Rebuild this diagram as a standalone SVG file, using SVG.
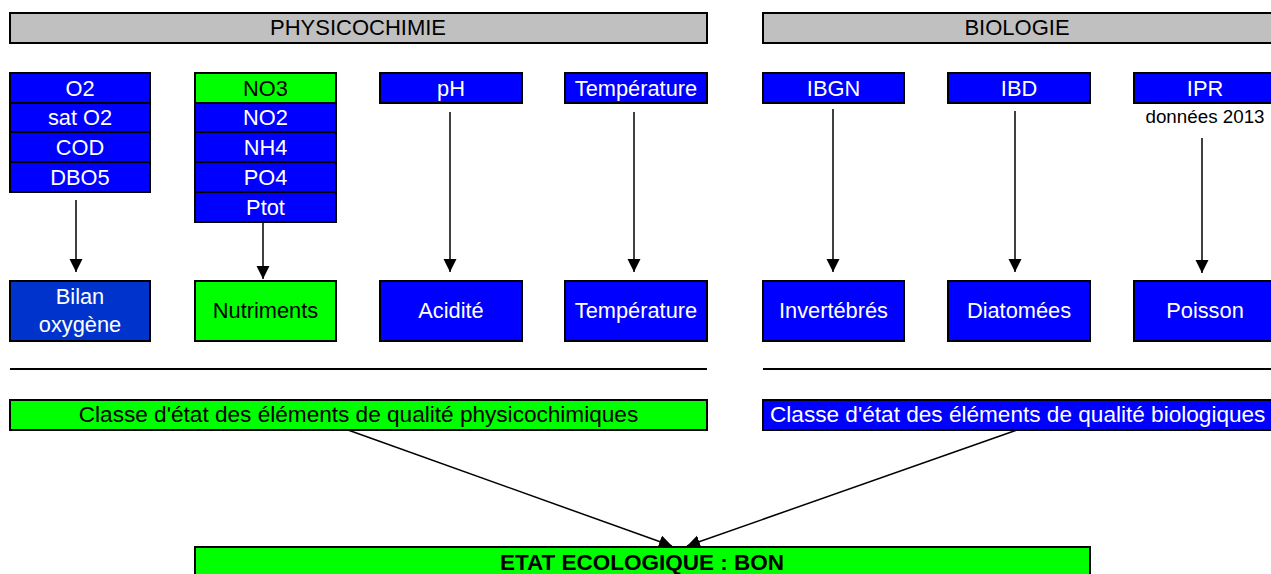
<svg xmlns="http://www.w3.org/2000/svg" width="1271" height="574" viewBox="0 0 1271 574">
<style>
text{font-family:"Liberation Sans",Arial,sans-serif;font-size:21.8px;text-anchor:middle}
.w{fill:#fff}
.k{fill:#000}
.blue{fill:#0000FF;stroke:#000;stroke-width:2}
.green{fill:#00FF00;stroke:#000;stroke-width:2}
.dblue{fill:#0033CC;stroke:#000;stroke-width:2}
.gray{fill:#C0C0C0;stroke:#000;stroke-width:2}
.hdr{font-size:22px}
.cls{font-size:22.6px}
.conn line{stroke:#000;stroke-width:1.5}
</style>
<defs>
<marker id="ah" markerUnits="userSpaceOnUse" markerWidth="14" markerHeight="14" refX="13" refY="6.5" orient="auto">
<path d="M0,0 L13,6.5 L0,13 z" fill="#000"/>
</marker>
</defs>
<rect width="1271" height="574" fill="#fff"/>
<g id="hdr-physico"><rect class="gray" x="10" y="13" width="697" height="30"/><text class="k hdr" x="358" y="35">PHYSICOCHIMIE</text></g>
<g id="hdr-bio"><rect class="gray" x="763" y="13" width="515" height="30"/><text class="k hdr" x="1017" y="35">BIOLOGIE</text></g>
<g id="oxy-params">
<rect class="blue" x="10" y="73" width="140" height="30"/><text class="w" x="80" y="96">O2</text>
<rect class="blue" x="10" y="103" width="140" height="29"/><text class="w" x="80" y="125">sat O2</text>
<rect class="blue" x="10" y="132" width="140" height="30"/><text class="w" x="80" y="155">COD</text>
<rect class="blue" x="10" y="162" width="140" height="30"/><text class="w" x="80" y="185">DBO5</text>
</g>
<g id="nutri-params">
<rect class="green" x="195" y="73" width="141" height="30"/><text class="k" x="265.5" y="96">NO3</text>
<rect class="blue" x="195" y="103" width="141" height="29"/><text class="w" x="265.5" y="125">NO2</text>
<rect class="blue" x="195" y="132" width="141" height="30"/><text class="w" x="265.5" y="155">NH4</text>
<rect class="blue" x="195" y="162" width="141" height="30"/><text class="w" x="265.5" y="185">PO4</text>
<rect class="blue" x="195" y="192" width="141" height="30"/><text class="w" x="265.5" y="215">Ptot</text>
</g>
<g id="ph"><rect class="blue" x="380" y="73" width="142" height="30"/><text class="w" x="451" y="96">pH</text></g>
<g id="temp-param"><rect class="blue" x="565" y="73" width="142" height="30"/><text class="w" x="636" y="96">Température</text></g>
<g id="ibgn"><rect class="blue" x="763" y="73" width="141" height="30"/><text class="w" x="833.5" y="96">IBGN</text></g>
<g id="ibd"><rect class="blue" x="948" y="73" width="142" height="30"/><text class="w" x="1019" y="96">IBD</text></g>
<g id="ipr"><rect class="blue" x="1134" y="73" width="145" height="30"/><text class="w" x="1205" y="96">IPR</text>
<text class="k" x="1205" y="123" style="font-size:18.8px">données 2013</text></g>
<g id="bilan"><rect class="dblue" x="10" y="281" width="140" height="60"/><text class="w" x="80" y="304">Bilan</text><text class="w" x="80" y="332">oxygène</text></g>
<g id="nutriments"><rect class="green" x="195" y="281" width="141" height="60"/><text class="k" x="265.5" y="318">Nutriments</text></g>
<g id="acidite"><rect class="blue" x="380" y="281" width="142" height="60"/><text class="w" x="451" y="318">Acidité</text></g>
<g id="temperature"><rect class="blue" x="565" y="281" width="142" height="60"/><text class="w" x="636" y="318">Température</text></g>
<g id="invertebres"><rect class="blue" x="763" y="281" width="141" height="60"/><text class="w" x="833.5" y="318">Invertébrés</text></g>
<g id="diatomees"><rect class="blue" x="948" y="281" width="142" height="60"/><text class="w" x="1019" y="318">Diatomées</text></g>
<g id="poisson"><rect class="blue" x="1134" y="281" width="145" height="60"/><text class="w" x="1205" y="318">Poisson</text></g>
<g id="separators"><line x1="10" y1="369" x2="707" y2="369" stroke="#000" stroke-width="2"/><line x1="763" y1="369" x2="1271" y2="369" stroke="#000" stroke-width="2"/></g>
<g id="classe-physico"><rect class="green" x="10" y="400" width="697" height="30"/><text class="k cls" x="358.5" y="422">Classe d'état des éléments de qualité physicochimiques</text></g>
<g id="classe-bio"><rect class="blue" x="763" y="400" width="515" height="30"/><text class="w cls" x="770" y="422" style="text-anchor:start">Classe d'état des éléments de qualité biologiques</text></g>
<g id="etat"><rect class="green" x="195" y="547" width="895" height="40"/><text class="k" x="642" y="570" style="font-weight:bold;font-size:22.5px">ETAT ECOLOGIQUE : BON</text></g>
<g class="conn" id="connectors">
<line x1="76" y1="200" x2="76" y2="272" marker-end="url(#ah)"/>
<line x1="263" y1="223" x2="263" y2="279" marker-end="url(#ah)"/>
<line x1="450" y1="112" x2="450" y2="272" marker-end="url(#ah)"/>
<line x1="634" y1="112" x2="634" y2="272" marker-end="url(#ah)"/>
<line x1="833" y1="109" x2="833" y2="272" marker-end="url(#ah)"/>
<line x1="1015" y1="111" x2="1015" y2="272" marker-end="url(#ah)"/>
<line x1="1202" y1="138" x2="1202" y2="273" marker-end="url(#ah)"/>
<line x1="348" y1="430" x2="672" y2="546" marker-end="url(#ah)"/>
<line x1="1017" y1="430" x2="687" y2="546" marker-end="url(#ah)"/>
</g>
</svg>
